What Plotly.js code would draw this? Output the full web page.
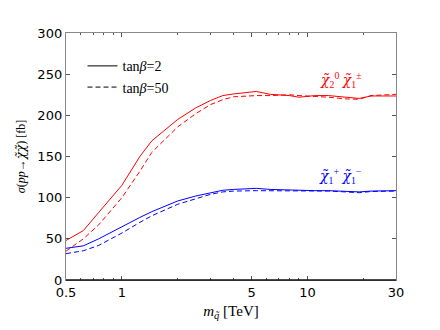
<!DOCTYPE html>
<html>
<head>
<meta charset="utf-8">
<script src="https://cdn.plot.ly/plotly-3.0.1.min.js"></script>
<style>
body { margin: 0; background: #fff; }
#chart { width: 440px; height: 330px; }
</style>
</head>
<body>
<div id="chart"></div>
<script>
// squark mass [TeV]
var mass = [0.5, 0.62, 0.75, 1, 1.25, 1.45, 2, 2.5, 3, 3.5, 4, 5.3, 6.3, 8, 9, 11, 13, 16, 19, 22, 30];

// chi2^0 chi1^+- cross section [fb]
var neuchar_tb2  = [48, 60, 82, 115, 150, 169, 195, 209, 218, 224, 226, 229, 225.5, 224, 222, 224, 224, 222, 220.5, 223.5, 223.5];
var neuchar_tb50 = [35, 50, 67, 100, 132, 155, 186, 202, 213, 219, 222.5, 224, 224, 225, 224, 223, 222, 220, 219.5, 224, 225.5];

// chi1^+ chi1^- cross section [fb]
var charchar_tb2  = [38.5, 41.5, 50, 65, 76, 83, 96, 102, 106, 109, 110, 111.3, 110, 109, 109, 108.5, 108.5, 108, 107, 108, 108.5];
var charchar_tb50 = [32, 35.5, 42, 57, 70, 78, 92, 99, 104, 107, 108, 108.5, 108.5, 108.5, 108.5, 108, 108, 107, 106, 107.5, 108];

var xticks = [0.5, 1, 5, 10, 30];
var xminor = [0.6, 0.7, 0.8, 0.9, 2, 3, 4, 6, 7, 8, 9, 20];

var lw = 1;
var dashed = "5px,3px";

function curve(y, color, dash) {
	return {
		mode: "lines",
		x: mass,
		y: y,
		showlegend: false,
		hoverinfo: "skip",
		line: { color: color, width: lw, dash: dash }
	};
}

var data = [
	curve(neuchar_tb2, "#ff0000", "solid"),
	curve(neuchar_tb50, "#ff0000", dashed),
	curve(charchar_tb2, "#0000ff", "solid"),
	curve(charchar_tb50, "#0000ff", dashed),
	// legend-only entries
	{ mode: "lines", x: [null], y: [null], name: "tan<i>β</i>=2",
	  line: { color: "#000", width: lw } },
	{ mode: "lines", x: [null], y: [null], name: "tan<i>β</i>=50",
	  line: { color: "#000", width: lw, dash: dashed } }
];

var serif = "Liberation Serif, DejaVu Serif, serif";
// chi-tilde drawn in DejaVu Serif, which places the combining tilde properly
var chi = "<span style=\"font-family:'DejaVu Serif'\"><i>χ̃</i></span>";

var layout = {
	width: 440,
	height: 330,
	paper_bgcolor: "#fff",
	plot_bgcolor: "#fff",
	margin: { l: 66, r: 44, t: 33, b: 50, autoexpand: false },
	font: { family: "DejaVu Sans, sans-serif", size: 13, color: "#000" },
	xaxis: {
		type: "log",
		range: [Math.log10(0.5), Math.log10(30)],
		tickmode: "array",
		tickvals: xticks,
		ticktext: xticks.map(String),
		ticks: "inside",
		ticklen: 4,
		tickcolor: "#555",
		showline: true,
		linecolor: "#888",
		linewidth: 1.2,
		mirror: "ticks",
		showgrid: false,
		zeroline: false,
		minor: { tickmode: "array", tickvals: xminor, ticks: "inside", ticklen: 2, tickcolor: "#555", showgrid: false },
		title: { text: "<i>m</i><sub><i>q̃</i></sub> [TeV]", font: { family: serif, size: 15 }, standoff: 6 }
	},
	yaxis: {
		range: [0, 300],
		tickmode: "array",
		tickvals: [0, 50, 100, 150, 200, 250, 300],
		ticks: "inside",
		ticklen: 4,
		tickcolor: "#555",
		showline: true,
		linecolor: "#888",
		linewidth: 1.2,
		mirror: "ticks",
		showgrid: false,
		zeroline: false,
		title: { text: "<i>σ</i>(<i>pp</i>→" + chi + chi + ") [fb]", font: { family: serif, size: 12 }, standoff: 9 }
	},
	showlegend: true,
	legend: {
		x: 0.05,
		y: 0.93,
		xanchor: "left",
		yanchor: "top",
		bgcolor: "rgba(0,0,0,0)",
		font: { family: serif, size: 14 },
		tracegroupgap: 0,
		itemwidth: 30
	},
	shapes: [
		// dark bottom spine
		{ type: "line", xref: "paper", yref: "paper", x0: 0, x1: 1, y0: 0, y1: 0,
		  line: { color: "#111", width: 1.3 } }
	],
	annotations: [
		{ xref: "paper", yref: "paper", x: 0.833, y: 0.81, xanchor: "center", yanchor: "middle", showarrow: false,
		  text: chi + "<sub>2</sub><sup>0</sup> " + chi + "<sub>1</sub><sup>±</sup>",
		  font: { family: serif, size: 14, color: "#ff0000" } },
		{ xref: "paper", yref: "paper", x: 0.833, y: 0.42, xanchor: "center", yanchor: "middle", showarrow: false,
		  text: chi + "<sub>1</sub><sup>+</sup> " + chi + "<sub>1</sub><sup>−</sup>",
		  font: { family: serif, size: 14, color: "#0000ff" } }
	]
};

Plotly.newPlot("chart", data, layout, { displayModeBar: false, staticPlot: true });
</script>
</body>
</html>
